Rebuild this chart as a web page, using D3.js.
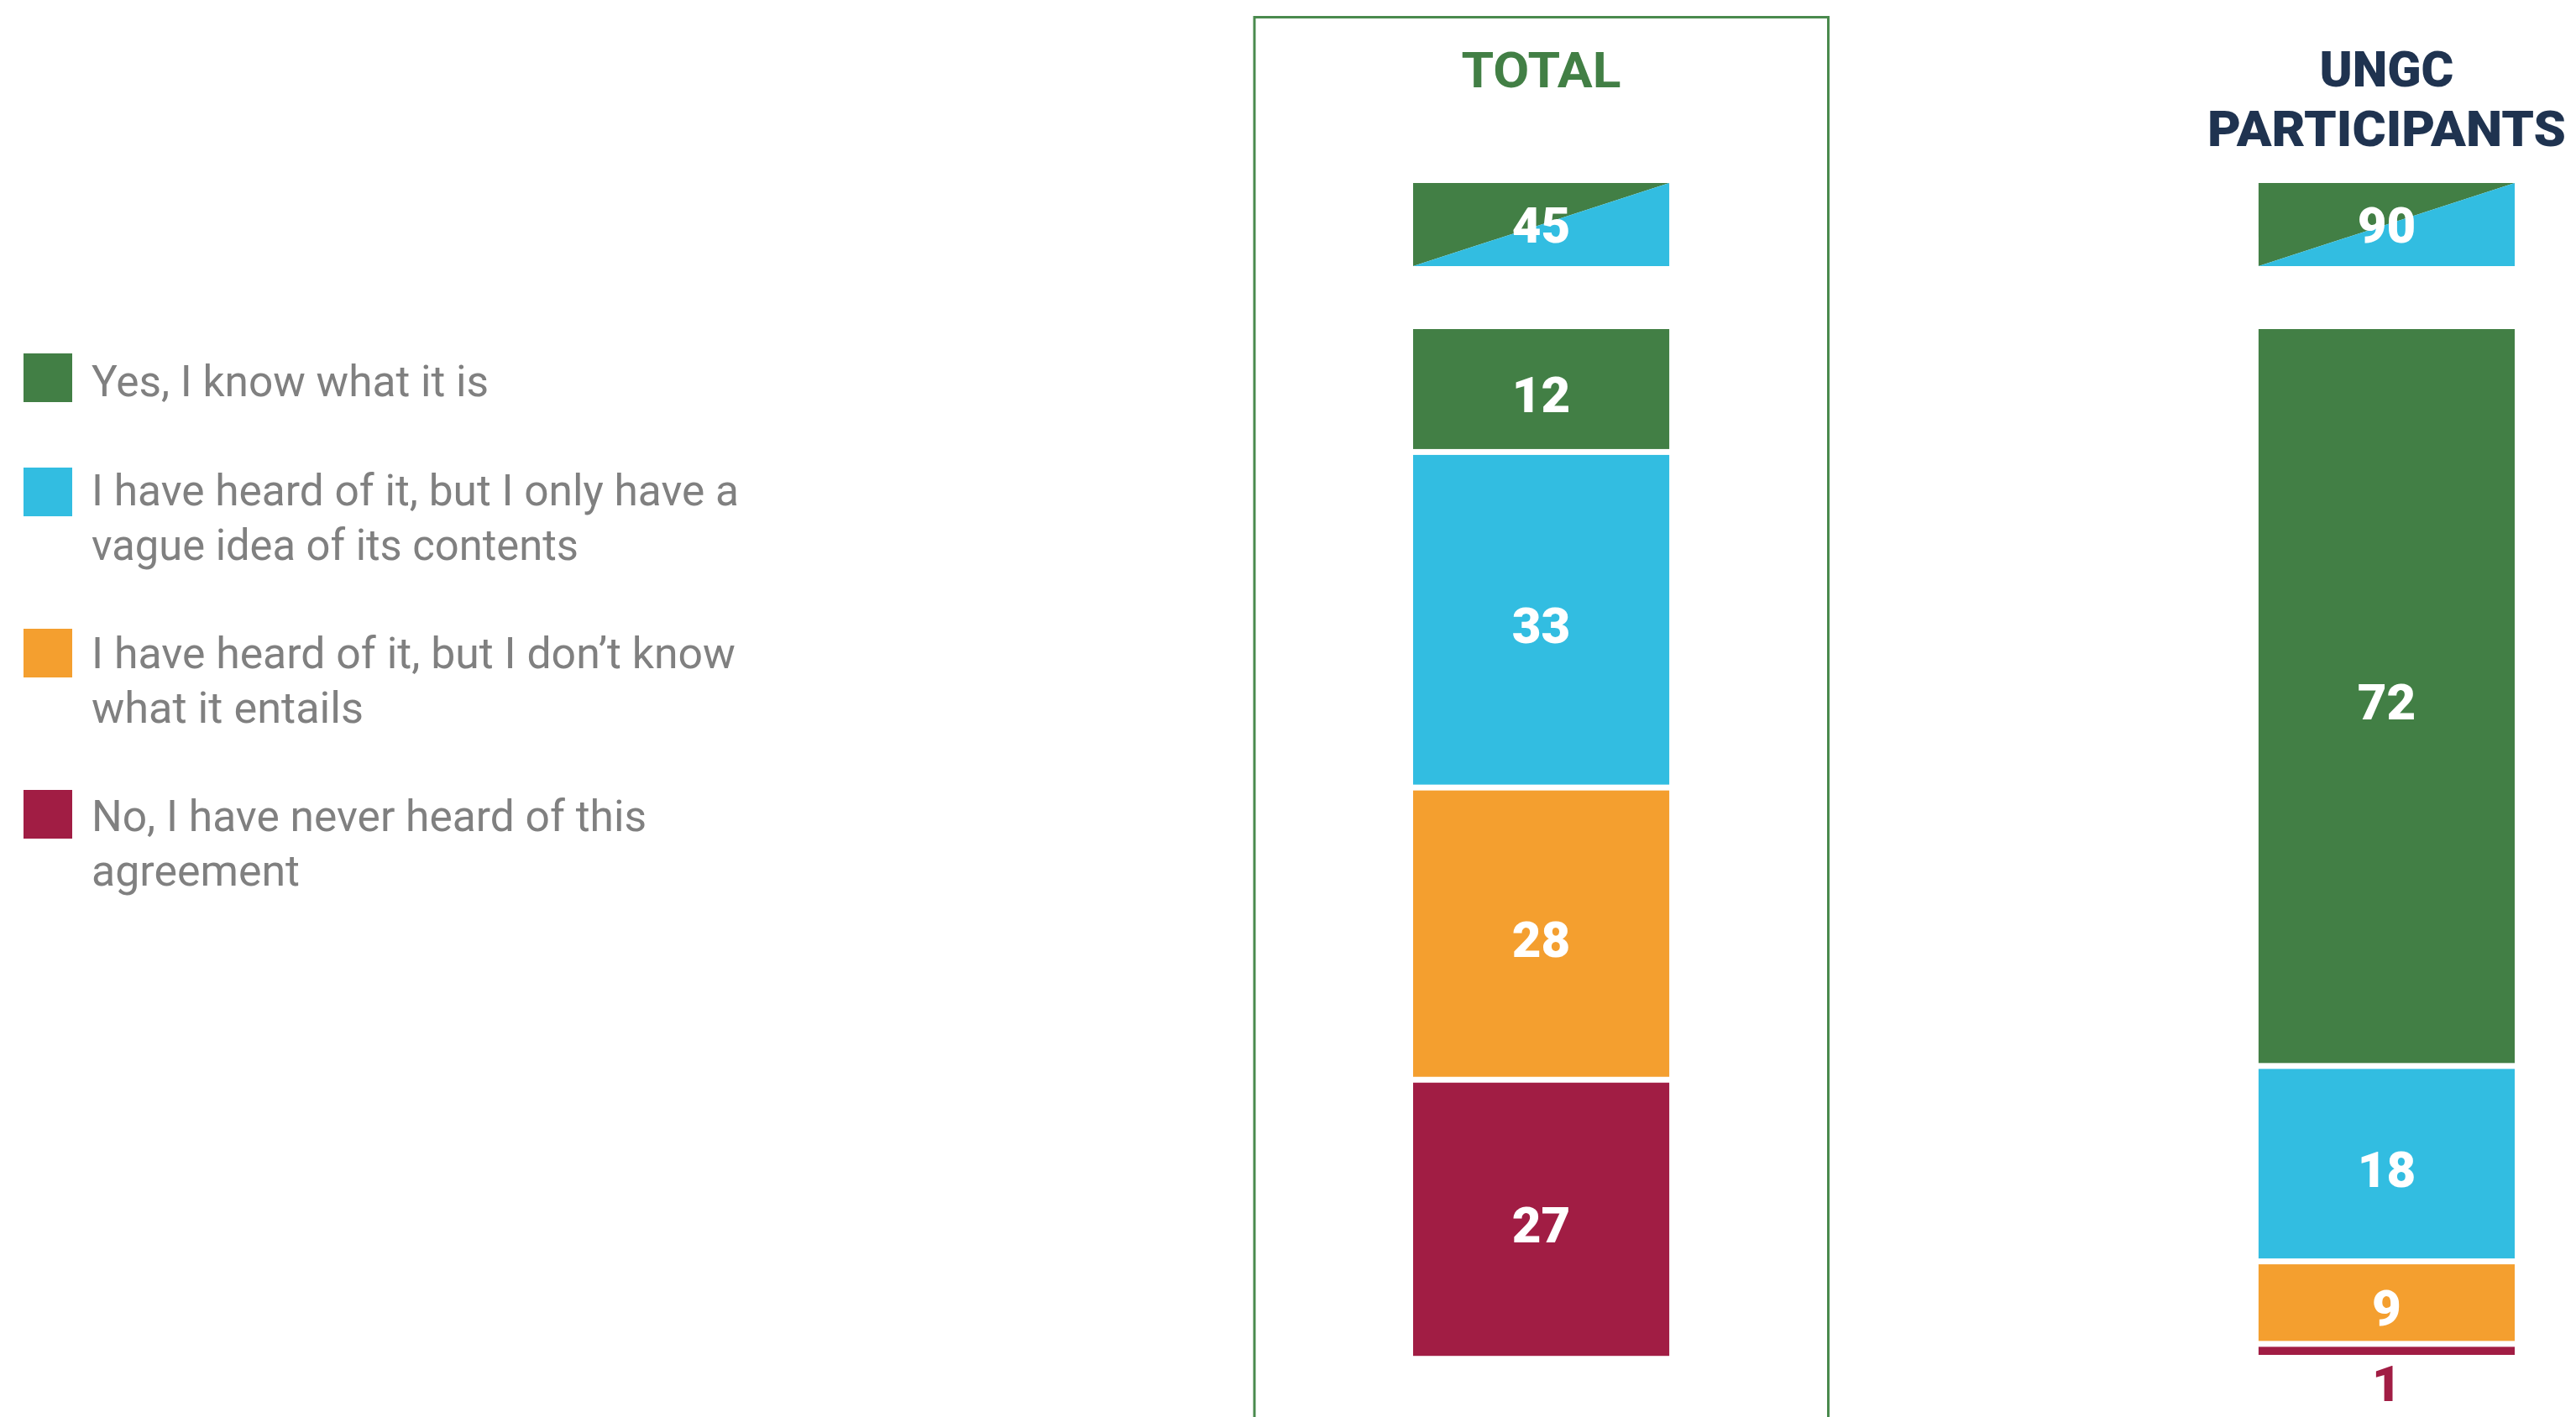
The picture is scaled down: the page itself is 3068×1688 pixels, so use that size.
<!DOCTYPE html>
<html>
<head>
<meta charset="utf-8">
<script src="https://cdn.jsdelivr.net/npm/d3@7"></script>
<style>
  html, body { margin: 0; padding: 0; background: #ffffff; }
  svg { display: block; }
</style>
</head>
<body>
<svg id="chart" width="3068" height="1688"></svg>
<script>
// ---------------- DATA ----------------
const categories = ["TOTAL", "UNGC PARTICIPANTS"];
const categoryTitleLines = [["TOTAL"], ["UNGC", "PARTICIPANTS"]];
const responses = [
  "Yes, I know what it is",
  "I have heard of it, but I only have a vague idea of its contents",
  "I have heard of it, but I don’t know what it entails",
  "No, I have never heard of this agreement"
];
const legendLines = [
  ["Yes, I know what it is"],
  ["I have heard of it, but I only have a", "vague idea of its contents"],
  ["I have heard of it, but I don’t know", "what it entails"],
  ["No, I have never heard of this", "agreement"]
];
// printed percentages
const totalLabels = [12, 33, 28, 27];
const ungcLabels  = [72, 18, 9, 1];
// segment sizes as measured from the bar lengths (unrounded estimates)
const totalShares = [11.9, 32.7, 28.4, 27.1];
const ungcShares  = [72.8, 18.8, 7.6, 0.8];
// "aware" (yes + vague) headline figures
const awareLabels = [45, 90];

// ---------------- STYLE / LAYOUT ----------------
const palette = ["#427f45", "#32bde1", "#f49f2f", "#a11d44"];
const titleColors = ["#427f45", "#1f3350"];
const W = 3068, H = 1688;
const barTop = 392, barBottom = 1614, segGap = 7;
const badgeTop = 218, badgeBottom = 317;
const legendLayout = {
  x: 28, size: 58, textX: 109,
  squareY: [421, 557, 749, 941],
  baselineY: [472, 602, 796, 990],
  lineStep: 64.5,
  widths: [[473], [771, 580], [767, 324], [661, 248]]
};
const titleLayout = {
  baselines: [[104], [103, 174]],
  widths: [[190], [160, 427]]
};

const svg = d3.select("#chart");

// x: band scale for the two columns
const x = d3.scaleBand()
  .domain(categories)
  .range([1683, 2995])
  .paddingInner(0.697)
  .paddingOuter(0);

// y: linear scale in percentage points -> pixels (gaps handled separately)
const y = d3.scaleLinear()
  .domain([0, 100])
  .range([0, barBottom - barTop - segGap * (responses.length - 1)]);

const sharesByCat = [totalShares, ungcShares];
const labelsByCat = [totalLabels, ungcLabels];

// ---------- frame around TOTAL ----------
svg.append("rect")
  .attr("x", 1494).attr("y", 20.5)
  .attr("width", 683.5).attr("height", 1760)
  .attr("fill", "none")
  .attr("stroke", "#4a8a4e")
  .attr("stroke-width", 3);

// ---------- titles ----------
categories.forEach((cat, ci) => {
  const cx = x(cat) + x.bandwidth() / 2;
  categoryTitleLines[ci].forEach((line, li) => {
    svg.append("text")
      .attr("x", cx)
      .attr("y", titleLayout.baselines[ci][li])
      .attr("text-anchor", "middle")
      .attr("font-family", "Roboto, 'DejaVu Sans', sans-serif")
      .attr("font-weight", ci === 0 ? 700 : 900)
      .attr("font-size", ci === 0 ? 60 : 59)
      .attr("fill", titleColors[ci])
      .attr("textLength", titleLayout.widths[ci][li])
      .attr("lengthAdjust", "spacingAndGlyphs")
      .text(line);
  });
});

// ---------- headline badges (split green / cyan) ----------
categories.forEach((cat, ci) => {
  const x0 = x(cat), x1 = x(cat) + x.bandwidth();
  const g = svg.append("g");
  g.append("polygon")
    .attr("points", [[x0, badgeTop], [x1, badgeTop], [x0, badgeBottom]].map(p => p.join(",")).join(" "))
    .attr("fill", palette[0]);
  g.append("polygon")
    .attr("points", [[x1, badgeTop], [x1, badgeBottom], [x0, badgeBottom]].map(p => p.join(",")).join(" "))
    .attr("fill", palette[1]);
  g.append("text")
    .attr("x", (x0 + x1) / 2)
    .attr("y", (badgeTop + badgeBottom) / 2 + 21.5)
    .attr("text-anchor", "middle")
    .attr("font-family", "Roboto, 'DejaVu Sans', sans-serif")
    .attr("font-weight", 900)
    .attr("font-size", 60)
    .attr("fill", "#ffffff")
    .text(awareLabels[ci]);
});

// ---------- stacked bars ----------
categories.forEach((cat, ci) => {
  const shares = sharesByCat[ci];
  const labels = labelsByCat[ci];
  let cum = 0;
  shares.forEach((v, si) => {
    const top = barTop + y(cum) + si * segGap;
    const h = y(v);
    cum += v;
    svg.append("rect")
      .attr("x", x(cat))
      .attr("y", top)
      .attr("width", x.bandwidth())
      .attr("height", h)
      .attr("fill", palette[si]);
    const inside = h > 60;
    svg.append("text")
      .attr("x", x(cat) + x.bandwidth() / 2)
      .attr("y", inside ? top + h / 2 + 27.5 : top + h + 55)
      .attr("text-anchor", "middle")
      .attr("font-family", "Roboto, 'DejaVu Sans', sans-serif")
      .attr("font-weight", 900)
      .attr("font-size", 60)
      .attr("fill", inside ? "#ffffff" : palette[si])
      .text(labels[si]);
  });
});

// ---------- legend ----------
responses.forEach((r, i) => {
  const g = svg.append("g").attr("class", "legend-item");
  g.append("rect")
    .attr("x", legendLayout.x)
    .attr("y", legendLayout.squareY[i])
    .attr("width", legendLayout.size)
    .attr("height", legendLayout.size)
    .attr("fill", palette[i]);
  legendLines[i].forEach((line, li) => {
    g.append("text")
      .attr("x", legendLayout.textX)
      .attr("y", legendLayout.baselineY[i] + li * legendLayout.lineStep)
      .attr("font-family", "Roboto, 'DejaVu Sans', sans-serif")
      .attr("font-weight", 400)
      .attr("font-size", 52)
      .attr("fill", "#808080")
      .attr("textLength", legendLayout.widths[i][li])
      .attr("lengthAdjust", "spacingAndGlyphs")
      .text(line);
  });
});
</script>
</body>
</html>
